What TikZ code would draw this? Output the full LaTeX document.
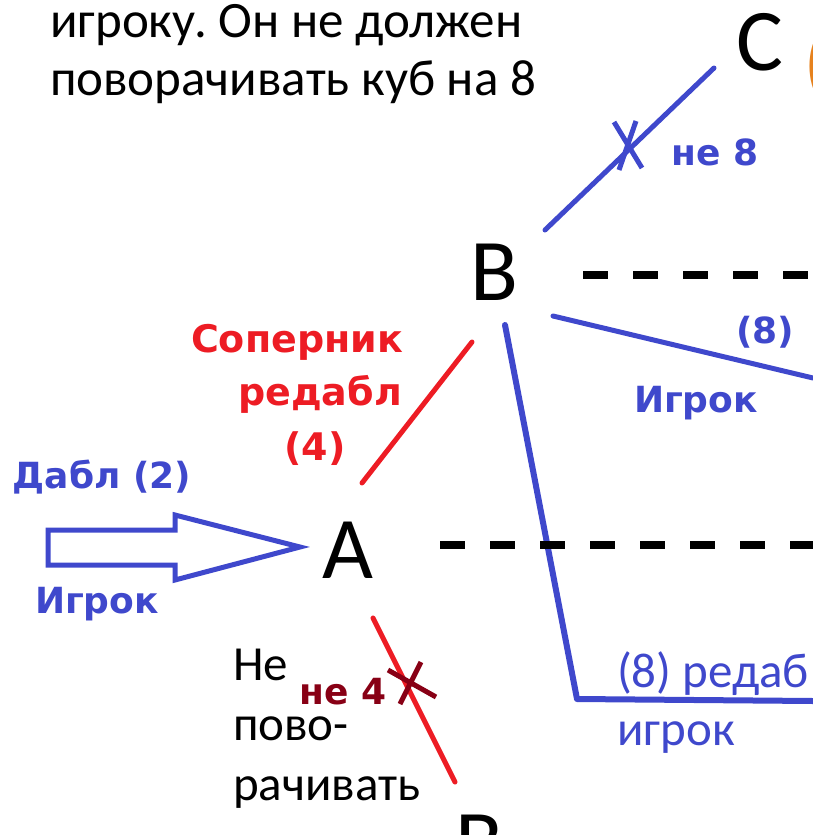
\documentclass[tikz,border=0pt]{standalone}
\usepackage{fontspec}
\setmainfont{Carlito}
\newfontfamily\labfont{DejaVu Sans}
\usetikzlibrary{positioning}
\frenchspacing
\definecolor{paintblue}{RGB}{63,72,204}
\definecolor{paintred}{RGB}{237,28,36}
\definecolor{darkred}{RGB}{136,0,21}
\definecolor{paintorange}{RGB}{230,130,30}

\begin{document}
\begin{tikzpicture}[
    x=1pt, y=-1pt,
    every node/.style={inner sep=0pt, outer sep=0pt},
    posnode/.style={font=\fontsize{88}{90}\selectfont, anchor=base},
    note/.style={font=\fontsize{49}{58}\selectfont, anchor=base west},
    topnote/.style={font=\fontsize{51}{58}\selectfont, anchor=base west},
    blab/.style={font=\labfont\bfseries\fontsize{36}{44}\selectfont, anchor=base, paintblue},
    rlab/.style={font=\labfont\bfseries\fontsize{38}{44}\selectfont, anchor=base, paintred},
    bline/.style={line width=5pt, paintblue, line cap=round},
    rline/.style={line width=5pt, paintred, line cap=round},
    gapline/.style={line width=8pt, dash pattern=on 25pt off 25pt},
  ]
  \path[use as bounding box] (0,0) rectangle (813,835);
  \clip (0,0) rectangle (813,835);

  % positions
  \node[posnode] (A) at (348,578) {A};
  \node[posnode] (B) at (494,300) {B};
  \node[posnode] (C) at (760,70)  {C};
  \node[posnode] (Bnext) at (479,871) {B};
  \node[font=\fontsize{88}{90}\selectfont, anchor=base west, paintorange] (Cnote) at (803,92) {(};

  % text
  \node[topnote] (t1) at (50,37) {игроку. Он не должен};
  \node[topnote] (t2) at (50,95) {поворачивать куб на 8};
  \node[note] (n1) at (233,680) {Не};
  \node[note] (n2) at (233,740) {пово-};
  \node[note] (n3) at (233,800) {рачивать};
  \node[note, paintblue] (r1) at (617,687) {(8) редаб};
  \node[note, paintblue] (r2) at (617,745) {игрок};

  \node[blab] (dbl) at (102,488) {Дабл (2)};
  \node[blab] (pl1) at (97,613)  {Игрок};
  \node[rlab] (s1) at (297,352)  {Соперник};
  \node[rlab] (s2) at (320,405)  {редабл};
  \node[rlab] (s3) at (315,460)  {(4)};
  \node[blab] (no8) at (715,165) {не 8};
  \node[blab] (e8) at (765,343)  {(8)};
  \node[blab] (pl2) at (696,412) {Игрок};
  \node[blab, darkred] (no4) at (343,704) {не 4};

  % connector ends
  \coordinate (a-up)   at (362,483);
  \coordinate (b-down) at (472,342);
  \coordinate (b-up)   at (545,230);
  \coordinate (c-down) at (714,68);
  \coordinate (b-right) at (553,316);
  \coordinate (b-foot) at (505,325);
  \coordinate (a-down) at (373,618);
  \coordinate (a-low)  at (455,782);
  \coordinate (b-gap)  at (583,275);
  \coordinate (a-gap)  at (440,545);

  \draw[rline] (a-up) -- (b-down);
  \draw[bline] (b-up) -- (c-down);
  \draw[bline] (b-right) -- (813,378);
  \draw[bline, line width=6pt, line join=round] (b-foot) -- (577,699) -- (813,701);
  \draw[rline] (a-down) -- (a-low);
  \draw[gapline] (b-gap) -- (813,275);
  \draw[gapline] (a-gap) -- (813,545);

  % crosses
  \draw[line width=5pt, paintblue] (614,122) -- (642,168) (636,121) -- (619,170);
  \draw[line width=5pt, darkred] (388,670) -- (436,697) (421,662) -- (400,704);

  % double arrow
  \draw[line width=5pt, paintblue, line join=miter]
    (48,530) -- (175,530) -- (175,515) -- (300,547) -- (175,580)
    -- (175,565) -- (48,565) -- cycle;
\end{tikzpicture}
\end{document}
